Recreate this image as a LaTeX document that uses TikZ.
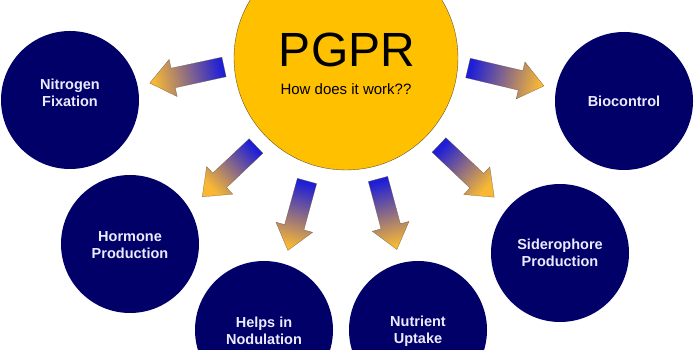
\documentclass[tikz,border=0pt]{standalone}
\usepackage{fontspec}
\setmainfont{Liberation Sans}

\definecolor{pgold}{RGB}{255,192,0}
\definecolor{pnavy}{RGB}{0,0,104}
\definecolor{pblue}{RGB}{30,30,215}
\definecolor{pmauve}{RGB}{190,140,165}
\definecolor{porange}{RGB}{248,184,52}
\definecolor{pedge}{RGB}{105,85,50}

% block arrow: tail x, tail y, direction, length
\newcommand{\gparrow}[4]{%
  \pgfmathsetmacro{\shang}{#3-90}
  \begin{scope}[shift={(#1,#2)},rotate=#3]
    \shadedraw[arrowshade,shading angle=\shang] (0,10) -- ({#4-24},10) -- ({#4-24},19)
      -- (#4,0) -- ({#4-24},-19) -- ({#4-24},-10) -- (0,-10) -- cycle;
  \end{scope}}

\begin{document}
\begin{tikzpicture}[x=1pt,y=1pt,
  maincircle/.style={circle,fill=pgold,draw=pedge,thin,minimum size=224pt,inner sep=0pt},
  subcircle/.style={circle,fill=pnavy,minimum size=138pt,inner sep=0pt},
  circletext/.style={align=center,text=white!92!blue,font=\bfseries\fontsize{14.5}{17}\selectfont},
  arrowshade/.style={draw=pedge,very thin,top color=porange,middle color=pmauve,bottom color=pblue}]
\useasboundingbox (0,0) rectangle (700,350);
\clip (0,0) rectangle (700,350);
\fill[white] (0,0) rectangle (700,350);

% centre
\node[maincircle] (pgpr) at (346,292) {};
\node[anchor=base] (title) at (347,283) {\fontsize{48}{52}\selectfont PGPR};
\node[anchor=base] (question) at (346,255) {\fontsize{15}{17}\selectfont How does it work??};

% effects
\node[subcircle] (nitro) at (70,250) {};
\node[subcircle] (hormone) at (130,106) {};
\node[subcircle] (nodule) at (264,20) {};
\node[subcircle] (nutrient) at (418,20) {};
\node[subcircle] (sidero) at (560,97) {};
\node[subcircle] (bio) at (624,249) {};
\node[circletext] (nitrotext) at (70,257) {Nitrogen\\Fixation};
\node[circletext] (hormonetext) at (130,105) {Hormone\\Production};
\node[circletext] (noduletext) at (264,19) {Helps in\\Nodulation};
\node[circletext] (nutrienttext) at (418,19) {Nutrient\\Uptake};
\node[circletext] (siderotext) at (560,97) {Siderophore\\Production};
\node[circletext] (biotext) at (624,249) {Biocontrol};

% arrows
\gparrow{224}{283}{192.2}{76}
\gparrow{468}{282}{-13.3}{78}
\gparrow{256}{204}{223.4}{74}
\gparrow{307}{169}{254.6}{72}
\gparrow{378}{171}{-75}{73}
\gparrow{439}{205}{-43.4}{76}
\end{tikzpicture}
\end{document}
